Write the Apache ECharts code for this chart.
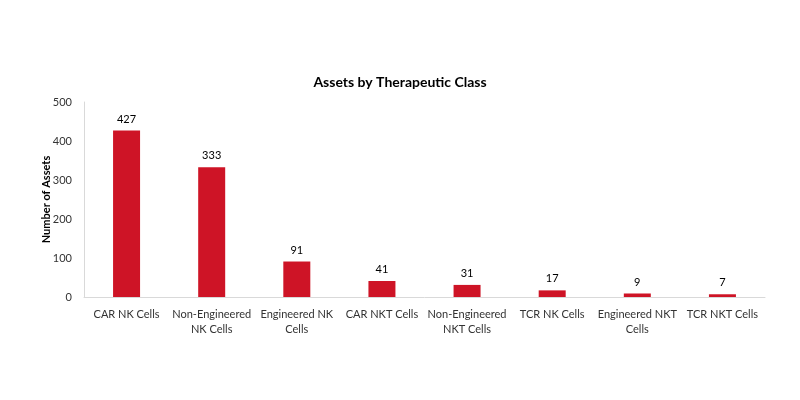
<!DOCTYPE html>
<html><head><meta charset="utf-8">
<script src="https://cdn.jsdelivr.net/npm/echarts@6/dist/echarts.min.js"></script>
<style>html,body{margin:0;padding:0;background:#fff}#c{width:800px;height:400px}</style>
</head><body><div id="c"></div>
<script>
const categories = ["CAR NK Cells","Non-Engineered\nNK Cells","Engineered NK\nCells","CAR NKT Cells","Non-Engineered\nNKT Cells","TCR NK Cells","Engineered NKT\nCells","TCR NKT Cells"];
const assets = [427,333,91,41,31,17,9,7];
const yTicks = {min:0,max:500,interval:100};
const FONT = "Lato";
const chart = echarts.init(document.getElementById('c'));
chart.setOption({
  animation:false,
  title:{text:"Assets by Therapeutic Class",left:'center',top:70,textStyle:{fontFamily:FONT,fontSize:14,fontWeight:'bold',color:'#000'}},
  grid:{left:84,right:35,top:102,bottom:103},
  xAxis:{type:'category',data:categories,
    axisLine:{lineStyle:{color:'#d9d9d9'}},axisTick:{show:false},
    axisLabel:{fontFamily:FONT,fontSize:11,color:'#333',margin:10,lineHeight:15,interval:0}},
  yAxis:{type:'value',min:yTicks.min,max:yTicks.max,interval:yTicks.interval,
    name:"Number of Assets",nameLocation:'middle',nameGap:32,nameRotate:90,nameMoveOverlap:false,
    nameTextStyle:{fontFamily:FONT,fontSize:11,fontWeight:'bold',color:'#000'},
    axisLine:{show:true,lineStyle:{color:'#d9d9d9'}},axisTick:{show:false},splitLine:{show:false},
    axisLabel:{fontFamily:FONT,fontSize:11,color:'#333',margin:12}},
  series:[{type:'bar',data:assets,barWidth:27,itemStyle:{color:'#CE1426'},
    label:{show:true,position:'top',distance:6,fontFamily:FONT,fontSize:11,color:'#000'}}]
});
</script></body></html>
